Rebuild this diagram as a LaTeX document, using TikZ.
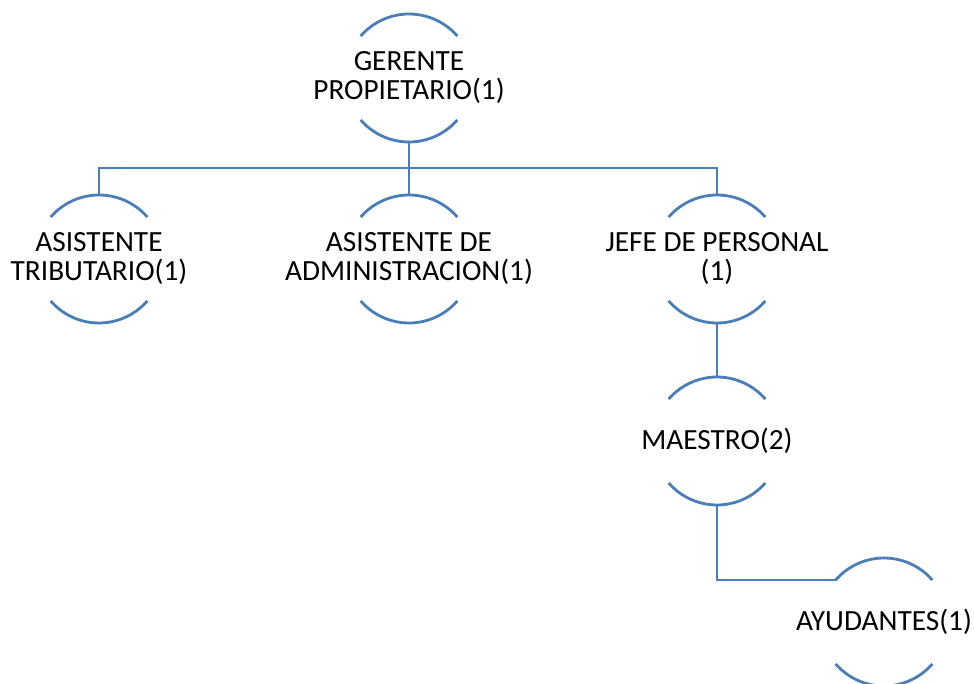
\documentclass[tikz,border=0pt]{standalone}
\usepackage{fontspec}
\setmainfont{Carlito}
\definecolor{lineblue}{RGB}{74,126,187}
\begin{document}
\begin{tikzpicture}[x=1pt,y=1pt,
  ring/.style={circle,minimum size=128pt,inner sep=0pt,outer sep=0pt},
  lbl/.style={align=center,inner sep=0pt,font=\fontsize{29.3}{29}\selectfont},
  conn/.style={draw=lineblue,line width=2.8pt},
  arcline/.style={draw=lineblue,line width=2.8pt}]
\useasboundingbox (0,0) rectangle (974,683);
\node[ring] (g) at (409,605) {};
\node[ring] (a) at (99,424) {};
\node[ring] (b) at (409,424) {};
\node[ring] (c) at (717,424) {};
\node[ring] (m) at (717,242) {};
\node[ring] (h) at (884,61) {};
\node[lbl] (gt) at (g.center) {GERENTE\\PROPIETARIO(1)};
\node[lbl] (at) at (a.center) {ASISTENTE\\TRIBUTARIO(1)};
\node[lbl] (bt) at (b.center) {ASISTENTE DE\\ADMINISTRACION(1)};
\node[lbl] (ct) at (c.center) {JEFE DE PERSONAL\\(1)};
\node[lbl] (mt) at (m.center) {MAESTRO(2)};
\node[lbl] (ht) at (h.center) {AYUDANTES(1)};
\foreach \n in {g,a,b,c,m,h}{
  \draw[arcline] (\n.41) arc[start angle=41,end angle=139,radius=64];
  \draw[arcline] (\n.221) arc[start angle=221,end angle=319,radius=64];
}
\coordinate (bus) at (409,515);
\draw[conn] (g.south) -- (bus);
\draw[conn] (a.north) |- (bus) -| (c.north);
\draw[conn] (bus) -- (b.north);
\draw[conn] (c.south) -- (m.north);
\draw[conn] (m.south) |- (h.139);
\end{tikzpicture}
\end{document}
